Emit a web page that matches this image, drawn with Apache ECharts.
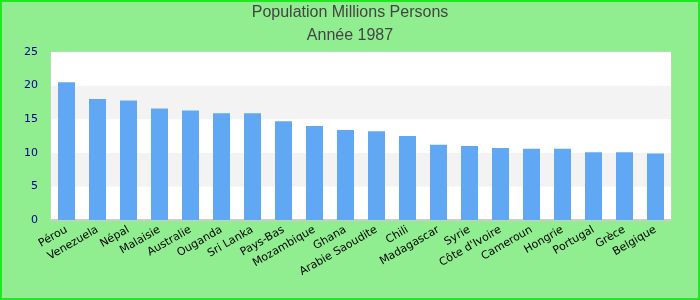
<!DOCTYPE html>
<html>
<head>
<meta charset="utf-8">
<script src="https://cdn.jsdelivr.net/npm/echarts@6/dist/echarts.min.js"></script>
<style>
  html, body { margin: 0; padding: 0; }
  #pop-bar {
    width: 700px;
    height: 300px;
  }
</style>
</head>
<body>
<div id="pop-bar"></div>
<script>
// categories + values (millions)
const countries = ['Pérou', 'Venezuela', 'Népal', 'Malaisie', 'Australie', 'Ouganda', 'Sri Lanka', 'Pays-Bas',
  'Mozambique', 'Ghana', 'Arabie Saoudite', 'Chili', 'Madagascar', 'Syrie', "Côte d'Ivoire", 'Cameroun',
  'Hongrie', 'Portugal', 'Grèce', 'Belgique']
const population = [20.5, 18.0, 17.8, 16.6, 16.3, 15.9, 15.9, 14.7, 14.0, 13.4, 13.2, 12.5, 11.2, 11.0, 10.7,
  10.6, 10.6, 10.1, 10.1, 9.9]
const yTicks = [0, 5, 10, 15, 20, 25]

let myChart = echarts.init(document.getElementById('pop-bar'))
myChart.setOption({
  backgroundColor: '#90ee90',
  animation: false,
  // green frame round the whole picture
  graphic: [
    {
      type: 'rect',
      z: 100,
      silent: true,
      shape: { x: 1, y: 1, width: 698, height: 298 },
      style: { fill: 'none', stroke: '#22e622', lineWidth: 2 }
    }
  ],
  title: {
    text: 'Population Millions Persons\nAnnée 1987',
    left: 'center',
    top: 1,
    padding: 0,
    textStyle: {
      color: '#444',
      fontSize: 16,
      fontWeight: 'normal',
      fontFamily: 'Liberation Sans',
      lineHeight: 23
    }
  },
  grid: {
    left: 51,
    right: 29,
    top: 52,
    bottom: 80,
    show: true,
    backgroundColor: '#fff',
    borderColor: '#ccc',
    borderWidth: 1
  },
  xAxis: {
    type: 'category',
    data: countries,
    axisTick: { show: false },
    axisLine: { lineStyle: { color: '#ccc', width: 2 } },
    axisLabel: {
      rotate: 30,
      interval: 0,
      color: '#000',
      fontSize: 11,
      fontFamily: 'DejaVu Sans',
      margin: 9
    }
  },
  yAxis: {
    type: 'value',
    min: yTicks[0],
    max: yTicks[yTicks.length - 1],
    interval: 5,
    axisLine: { show: false },
    axisTick: { show: false },
    axisLabel: {
      color: '#00008b',
      fontSize: 11,
      fontFamily: 'DejaVu Sans',
      margin: 13
    },
    splitLine: { show: false },
    splitArea: {
      show: true,
      areaStyle: { color: ['#fff', '#f3f3f3'] }
    }
  },
  series: [
    {
      type: 'bar',
      data: population,
      barWidth: 17,
      itemStyle: { color: '#60a8f4' }
    }
  ]
})
</script>
</body>
</html>
